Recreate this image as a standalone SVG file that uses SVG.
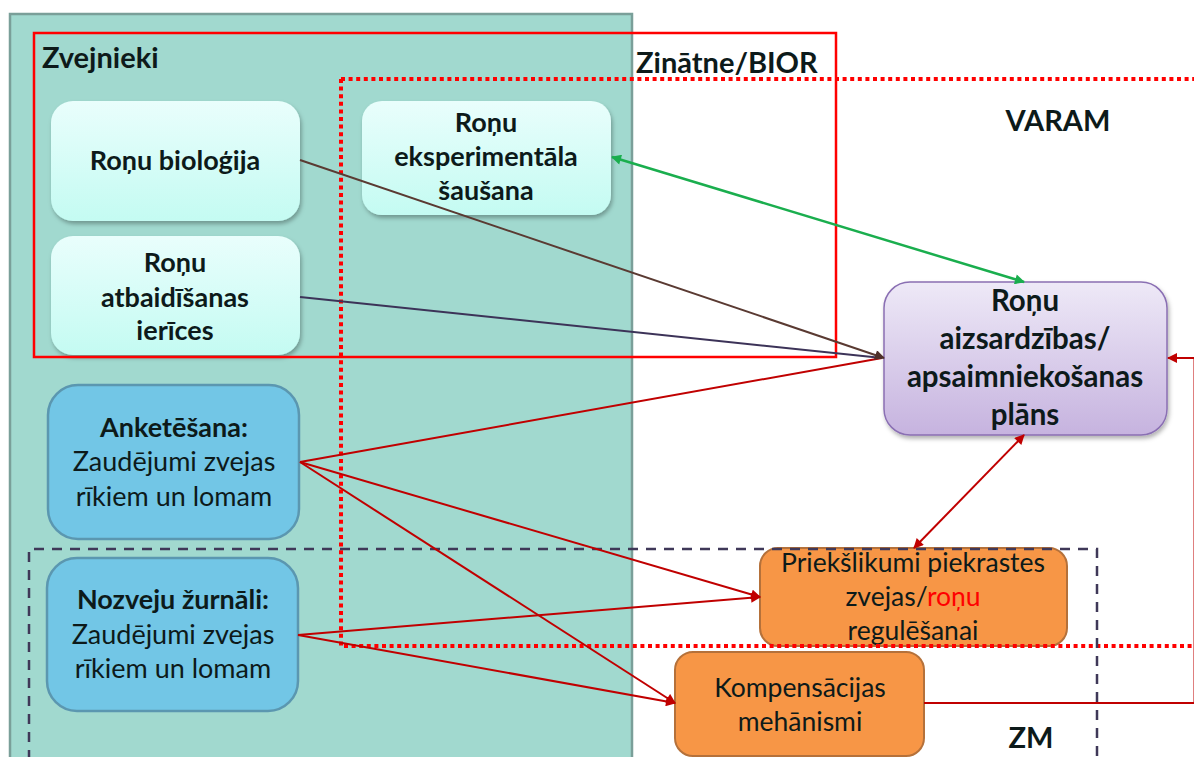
<svg xmlns="http://www.w3.org/2000/svg" width="1194" height="757" viewBox="0 0 1194 757">
<style>
  text { font-family: Lato, "Open Sans", "Liberation Sans", sans-serif; fill: #0d1a1a; text-anchor: middle; }
  .b { font-weight: bold; }
  .tn { font-size: 27px; }
  .tp { font-size: 29.5px; }
  .tt { font-size: 29px; }
  .to { font-size: 26.5px; }
  .light { fill: url(#gLight); filter: url(#sh); }
  .blue { fill: #72c6e6; stroke: #5b97b0; stroke-width: 2.5; }
  .orange { fill: #f79646; stroke: #b5713a; stroke-width: 2; }
  .purple { fill: url(#gPurple); stroke: #8a6fb3; stroke-width: 1.5; filter: url(#sh); }
  .red { stroke: #c00000; stroke-width: 2; fill: none; }
</style>
<defs>
  <linearGradient id="gLight" x1="0" y1="0" x2="0" y2="1">
    <stop offset="0" stop-color="#e9fefc"/>
    <stop offset="1" stop-color="#c4fbf2"/>
  </linearGradient>
  <linearGradient id="gPurple" x1="0" y1="0" x2="0" y2="1">
    <stop offset="0" stop-color="#eee9f7"/>
    <stop offset="1" stop-color="#c6b3df"/>
  </linearGradient>
  <filter id="sh" x="-10%" y="-10%" width="125%" height="130%">
    <feDropShadow dx="1.5" dy="3" stdDeviation="2" flood-color="#000" flood-opacity="0.3"/>
  </filter>
  <marker id="aRed" viewBox="0 0 10 10" refX="9" refY="5" markerWidth="12" markerHeight="10" markerUnits="userSpaceOnUse" orient="auto-start-reverse">
    <path d="M0,0 L10,5 L0,10 z" fill="#c00000"/>
  </marker>
  <marker id="aGreen" viewBox="0 0 10 10" refX="9" refY="5" markerWidth="12" markerHeight="10" markerUnits="userSpaceOnUse" orient="auto-start-reverse">
    <path d="M0,0 L10,5 L0,10 z" fill="#1aae4e"/>
  </marker>
  <marker id="aBrown" viewBox="0 0 10 10" refX="9" refY="5" markerWidth="12" markerHeight="10" markerUnits="userSpaceOnUse" orient="auto-start-reverse">
    <path d="M0,0 L10,5 L0,10 z" fill="#4e2f2a"/>
  </marker>
</defs>

<rect x="0" y="0" width="1194" height="757" fill="#ffffff"/>

<!-- background region Zvejnieki -->
<g id="region-zvejnieki">
  <rect x="10" y="14" width="622" height="760" fill="#a1d9cf" stroke="#7a9f99" stroke-width="2.5"/>
</g>

<!-- nodes -->
<g id="node-biologija">
  <rect class="light" x="51" y="101" width="249" height="120" rx="22"/>
  <text class="b tn" x="175" y="170">Roņu bioloģija</text>
</g>
<g id="node-sausana">
  <rect class="light" x="362" y="101" width="249" height="114" rx="20"/>
  <text class="b tn" x="486" y="132">Roņu</text>
  <text class="b tn" x="486" y="166">eksperimentāla</text>
  <text class="b tn" x="486" y="200">šaušana</text>
</g>
<g id="node-atbaidisana">
  <rect class="light" x="51" y="236" width="249" height="119" rx="22"/>
  <text class="b tn" x="175" y="272">Roņu</text>
  <text class="b tn" x="175" y="307">atbaidīšanas</text>
  <text class="b tn" x="175" y="340">ierīces</text>
</g>
<g id="node-anketesana">
  <rect class="blue" x="48" y="385" width="251" height="154" rx="30"/>
  <text class="b tn" x="174" y="437">Anketēšana:</text>
  <text class="tn" x="174" y="471">Zaudējumi zvejas</text>
  <text class="tn" x="174" y="506">rīkiem un lomam</text>
</g>
<g id="node-zurnali">
  <rect class="blue" x="47" y="558" width="251" height="153" rx="30"/>
  <text class="b tn" x="173" y="609">Nozveju žurnāli:</text>
  <text class="tn" x="173" y="644">Zaudējumi zvejas</text>
  <text class="tn" x="173" y="678">rīkiem un lomam</text>
</g>
<g id="node-plans">
  <rect class="purple" x="884" y="282" width="283" height="153" rx="26"/>
  <text class="b tp" x="1025" y="311">Roņu</text>
  <text class="b tp" x="1025" y="349">aizsardzības/</text>
  <text class="b tp" x="1025" y="387">apsaimniekošanas</text>
  <text class="b tp" x="1025" y="425">plāns</text>
</g>
<g id="node-prieksl">
  <rect class="orange" x="760" y="548" width="307" height="98" rx="18"/>
  <text class="to" x="913" y="572">Priekšlikumi piekrastes</text>
  <text class="to" x="913" y="606">zvejas/<tspan fill="#ff0000">roņu</tspan></text>
  <text class="to" x="913" y="640">regulēšanai</text>
</g>
<g id="node-kompens">
  <rect class="orange" x="675" y="652" width="249" height="104" rx="18"/>
  <text class="to" x="800" y="697">Kompensācijas</text>
  <text class="to" x="800" y="731">mehānismi</text>
</g>

<!-- group frames and labels -->
<g id="frames">
  <rect x="34" y="33" width="802" height="324" fill="none" stroke="#ff0000" stroke-width="2.5"/>
  <path d="M341,79 H1200 M341,79 V646 H1200" fill="none" stroke="#ff0000" stroke-width="4" stroke-dasharray="4 3.6"/>
  <path d="M29,760 V549 H1097 V760" fill="none" stroke="#3f3858" stroke-width="2.5" stroke-dasharray="10 8"/>
  <text class="b tt" x="42" y="68" style="text-anchor:start">Zvejnieki</text>
  <text class="b tt" x="636" y="73" style="text-anchor:start">Zinātne/BIOR</text>
  <text class="b tt" x="1058" y="131">VARAM</text>
  <text class="b tt" x="1031" y="748">ZM</text>
</g>

<!-- connectors -->
<g id="connectors">
  <line class="red" x1="300" y1="462" x2="882" y2="358"/>
  <line x1="300" y1="297" x2="882" y2="358" stroke="#3c3358" stroke-width="2"/>
  <line x1="300" y1="160" x2="884" y2="358" stroke="#5a3a32" stroke-width="2" marker-end="url(#aBrown)"/>
  <line x1="612" y1="157" x2="1024" y2="282" stroke="#1aae4e" stroke-width="2.5" marker-start="url(#aGreen)" marker-end="url(#aGreen)"/>
  <line class="red" x1="300" y1="462" x2="760" y2="597" marker-end="url(#aRed)"/>
  <line class="red" x1="300" y1="462" x2="675" y2="703" marker-end="url(#aRed)"/>
  <line class="red" x1="298" y1="635" x2="760" y2="597" marker-end="url(#aRed)"/>
  <line class="red" x1="298" y1="635" x2="675" y2="703" marker-end="url(#aRed)"/>
  <line class="red" x1="1024" y1="435" x2="914" y2="548" marker-start="url(#aRed)" marker-end="url(#aRed)"/>
  <path class="red" d="M924,703 H1194.5 V358 H1168" marker-end="url(#aRed)"/>
</g>
</svg>
